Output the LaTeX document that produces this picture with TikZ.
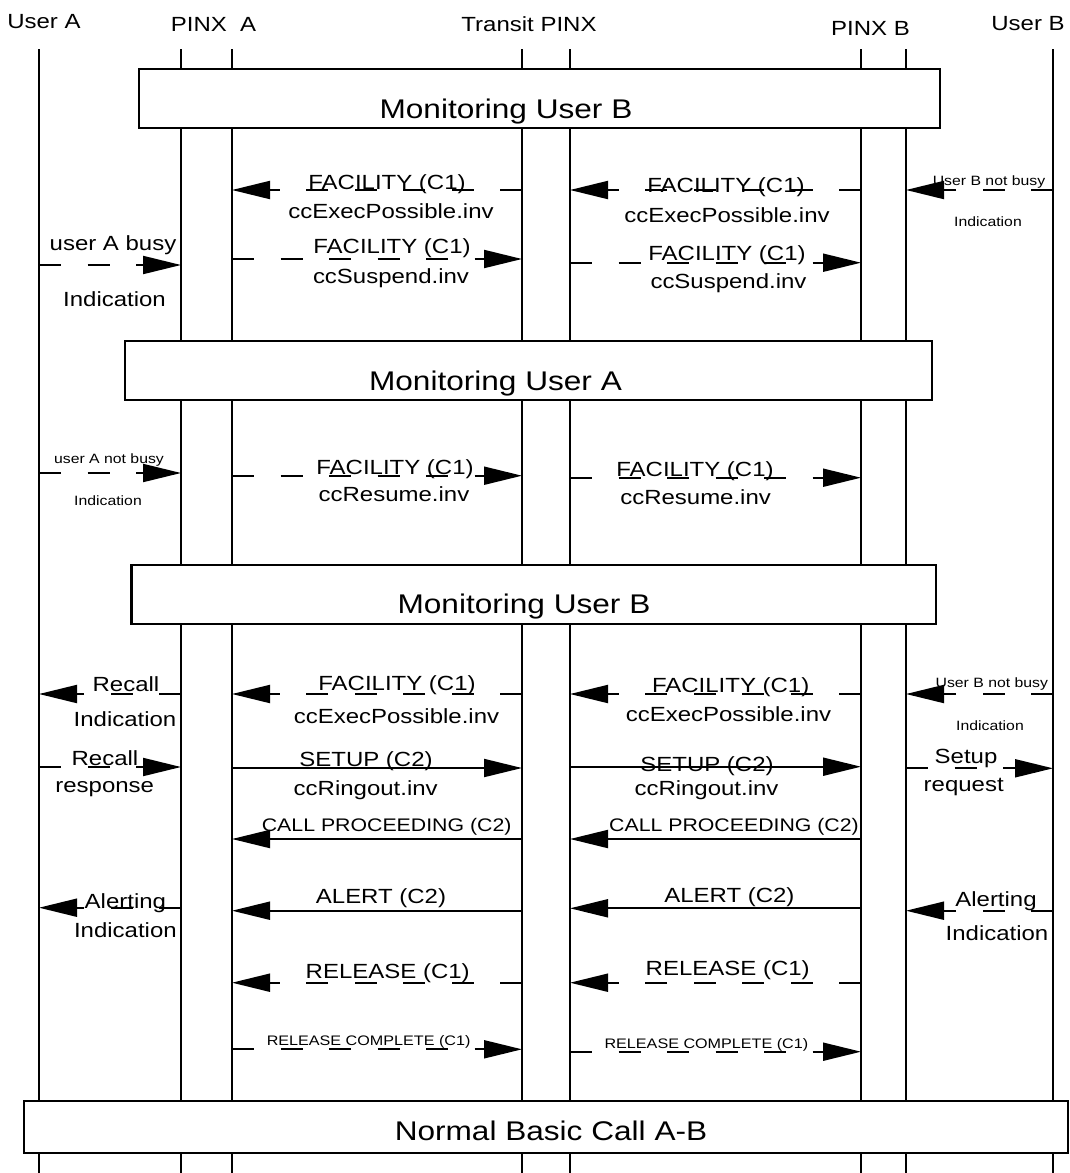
\documentclass[tikz,border=0pt]{standalone}
\usepackage{fontspec}
\setmainfont{Liberation Sans}
\newfontfamily\wf[FakeStretch=1.17]{Liberation Sans}
\usetikzlibrary{arrows.meta}
\tikzset{
  life/.style={line width=2pt},
  boxst/.style={draw, line width=2.4pt, fill=white, inner sep=0pt},
  sm/.style={line width=2pt, -{Triangle[length=38pt,width=18pt]}},
  dm/.style={sm, dash pattern=on 22pt off 26.5pt},
  lab/.style={inner sep=0pt, anchor=base, font=\wf\fontsize{20.5}{24}\selectfont},
  slab/.style={lab, font=\wf\fontsize{13.5}{16}\selectfont},
  rclab/.style={lab, font=\wf\fontsize{13.8}{16}\selectfont},
  cplab/.style={lab, font=\wf\fontsize{18.2}{22}\selectfont},
  big/.style={lab, font=\wf\fontsize{27}{32}\selectfont},
}
\newcommand\msgline[5]{\coordinate (#1a) at (#3,#5); \coordinate (#1b) at (#4,#5); \draw[#2] (#1a) -- (#1b);}
\begin{document}
\begin{tikzpicture}[x=1pt,y=-1pt]
\useasboundingbox (0,0) rectangle (1069,1173);
\def\UA{39}\def\PAa{181}\def\PAb{232}\def\Ta{522}\def\Tb{570}\def\PBa{861}\def\PBb{906}\def\UB{1053}
% headers
\node[lab] (hUA) at (44,28.3) {User A};
\node[lab] (hPA) at (213.5,31.7) {PINX\ \ A};
\node[lab] (hT) at (529,31.7) {Transit PINX};
\node[lab] (hPB) at (870.5,35) {PINX B};
\node[lab] (hUB) at (1028,30) {User B};
% lifelines
\foreach \n/\x in {ua/\UA, paa/\PAa, pab/\PAb, ta/\Ta, tb/\Tb, pba/\PBa, pbb/\PBb, ub/\UB}{
  \coordinate (\n-top) at (\x,49);
  \coordinate (\n-bot) at (\x,1173);
  \draw[life] (\n-top) -- (\n-bot);
}
% boxes
\node[boxst, minimum width=801pt, minimum height=59pt] (box1) at (539.5,98.5) {};
\node[big] (box1t) at (506,118.3) {Monitoring User B};
\node[boxst, minimum width=807pt, minimum height=59pt] (box2) at (528.5,370.5) {};
\node[big] (box2t) at (495.5,390) {Monitoring User A};
\node[boxst, minimum width=804.4pt, minimum height=59pt] (box3) at (533.8,594.5) {};
\node[big] (box3t) at (524,613) {Monitoring User B};
\node[boxst, minimum width=1044pt, minimum height=52pt] (box4) at (546,1126.7) {};
\node[big] (box4t) at (551,1140) {Normal Basic Call A-B};

% ---- section 1
\msgline{m1}{dm}{\Ta}{\PAb}{190}
\node[lab] (m1t) at (387,189.3) {FACILITY (C1)};
\node[lab] (m1u) at (391,218.3) {ccExecPossible.inv};
\msgline{m3}{dm}{\PBa}{\Tb}{190}
\node[lab] (m3t) at (726,192) {FACILITY (C1)};
\node[lab] (m3u) at (727,222) {ccExecPossible.inv};
\msgline{m4}{dm}{\UB}{\PBb}{190}
\node[slab] (m4t) at (989,185) {User B not busy};
\node[slab] (m4u) at (988,226.7) {Indication};
\msgline{m6}{dm}{\UA}{\PAa}{265}
\node[lab] (m6t) at (113,250) {user A busy};
\node[lab] (m6u) at (114.5,306.7) {Indication};
\msgline{m7}{dm}{\PAb}{\Ta}{259}
\node[lab] (m7t) at (392,253) {FACILITY (C1)};
\node[lab] (m7u) at (391,283) {ccSuspend.inv};
\msgline{m5}{dm}{\Tb}{\PBa}{262.7}
\node[lab] (m5t) at (727,260) {FACILITY (C1)};
\node[lab] (m5u) at (728.5,288) {ccSuspend.inv};

% ---- section 2
\msgline{m8}{dm}{\UA}{\PAa}{473}
\node[slab] (m8t) at (109,463) {user A not busy};
\node[slab] (m8u) at (108,505) {Indication};
\msgline{m9}{dm}{\PAb}{\Ta}{475.7}
\node[lab] (m9t) at (395,474) {FACILITY (C1)};
\node[lab] (m9u) at (394,501.7) {ccResume.inv};
\msgline{m10}{dm}{\Tb}{\PBa}{477.7}
\node[lab] (m10t) at (695,476.7) {FACILITY (C1)};
\node[lab] (m10u) at (695.6,504) {ccResume.inv};

% ---- section 3
\msgline{m11}{dm}{\PAa}{\UA}{694}
\node[lab] (m11t) at (126,691.7) {Recall};
\node[lab] (m11u) at (125,726.7) {Indication};
\msgline{m12}{dm}{\Ta}{\PAb}{694}
\node[lab] (m12t) at (397,690.7) {FACILITY (C1)};
\node[lab] (m12u) at (396.5,723) {ccExecPossible.inv};
\msgline{m16}{dm}{\PBa}{\Tb}{694}
\node[lab] (m16t) at (730.7,692.7) {FACILITY (C1)};
\node[lab] (m16u) at (728.5,721.7) {ccExecPossible.inv};
\msgline{m17}{dm}{\UB}{\PBb}{694}
\node[slab] (m17t) at (991.8,687.3) {User B not busy};
\node[slab] (m17u) at (990,730.7) {Indication};
\msgline{m13}{dm}{\UA}{\PAa}{767}
\node[lab] (m13t) at (105,765) {Recall};
\node[lab] (m13u) at (104.7,792.7) {response};
\msgline{m14}{sm}{\PAb}{\Ta}{768}
\node[lab] (m14t) at (366,766) {SETUP (C2)};
\node[lab] (m14u) at (365.7,795) {ccRingout.inv};
\msgline{m18}{sm}{\Tb}{\PBa}{766.7}
\node[lab] (m18t) at (707,771) {SETUP (C2)};
\node[lab] (m18u) at (706.5,795) {ccRingout.inv};
\msgline{m19}{dm}{\PBb}{\UB}{768.3}
\node[lab] (m19t) at (966,763) {Setup};
\node[lab] (m19u) at (963.7,791.7) {request};
\msgline{m15}{sm}{\Ta}{\PAb}{839}
\node[cplab] (m15t) at (386.7,831.7) {CALL PROCEEDING (C2)};
\msgline{m20}{sm}{\PBa}{\Tb}{839}
\node[cplab] (m20t) at (734,831.7) {CALL PROCEEDING (C2)};

% ---- section 4
\msgline{m21}{dm}{\PAa}{\UA}{907.7}
\node[lab] (m21t) at (125.4,908.3) {Alerting};
\node[lab] (m21u) at (125.4,937.3) {Indication};
\msgline{m22}{sm}{\Ta}{\PAb}{910.7}
\node[lab] (m22t) at (381,903.3) {ALERT (C2)};
\msgline{m25}{sm}{\PBa}{\Tb}{908.3}
\node[lab] (m25t) at (729.4,902.7) {ALERT (C2)};
\msgline{m26}{dm}{\UB}{\PBb}{910.7}
\node[lab] (m26t) at (996,906.7) {Alerting};
\node[lab] (m26u) at (997,940) {Indication};
\msgline{m23}{dm}{\Ta}{\PAb}{982.7}
\node[lab] (m23t) at (387.7,978.3) {RELEASE (C1)};
\msgline{m27}{dm}{\PBa}{\Tb}{982.7}
\node[lab] (m27t) at (727.7,975) {RELEASE (C1)};
\msgline{m24}{dm}{\PAb}{\Ta}{1049.3}
\node[rclab] (m24t) at (368.6,1045) {RELEASE COMPLETE (C1)};
\msgline{m28}{dm}{\Tb}{\PBa}{1051.7}
\node[rclab] (m28t) at (706.4,1048.3) {RELEASE COMPLETE (C1)};
\end{tikzpicture}
\end{document}
